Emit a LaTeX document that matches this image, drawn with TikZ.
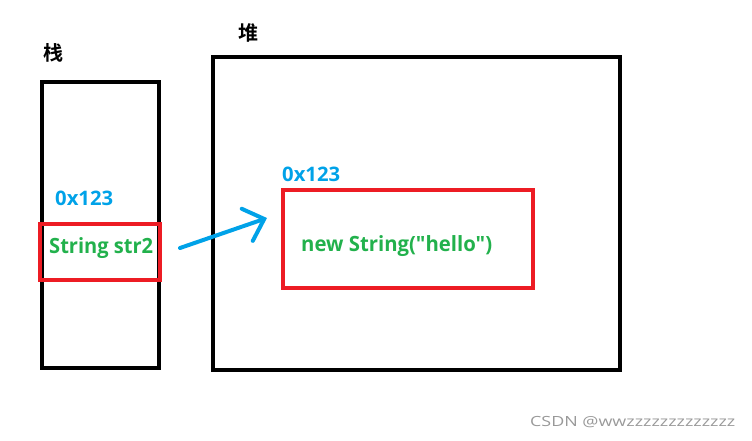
\documentclass[tikz,border=0pt]{standalone}
\usepackage{fontspec}
\usepackage{graphicx}
\setmainfont{Open Sans}[Ligatures=TeXOff]
\newfontfamily\cjk{Noto Sans CJK SC Bold}
\usetikzlibrary{arrows.meta, positioning}
\definecolor{paintred}{RGB}{237,28,36}
\definecolor{paintblue}{RGB}{0,162,232}
\definecolor{paintgreen}{RGB}{34,177,76}
% text squeezed to the width it has in the picture
\newcommand{\fitw}[2]{\resizebox{#1}{\height}{#2}}
\tikzset{
  membox/.style={rectangle, draw=black, line width=4pt, inner sep=0pt},
  refbox/.style={rectangle, draw=paintred, line width=4pt, inner sep=0pt},
  addrtext/.style={text=paintblue, font=\fontsize{20}{24}\selectfont\bfseries, inner sep=0pt, anchor=base west},
  codetext/.style={text=paintgreen, font=\fontsize{21}{25}\selectfont\bfseries, inner sep=0pt, anchor=base west},
  titletext/.style={font=\cjk\fontsize{20}{24}\selectfont, inner sep=0pt},
  refarr/.style={draw=paintblue, line width=4pt, line cap=round, -{Straight Barb[length=18pt, width=34pt, line cap=round]}},
}

\begin{document}
\begin{tikzpicture}[x=1pt, y=-1pt]
\useasboundingbox (0,0) rectangle (752,440);
% stack and heap
\node[membox, minimum width=117pt, minimum height=286pt] (stack) at (100.5,225) {};
\node[membox, minimum width=407pt, minimum height=313pt] (heap) at (416.5,213.5) {};
\node[titletext] (stacklbl) at (53,52.5) {栈};
\node[titletext] (heaplbl) at (248,32.5) {堆};
% reference in the stack
\node[refbox, minimum width=120pt, minimum height=56pt] (strref) at (100,252) {};
\node[addrtext] (stackaddr) at (55,205) {\fitw{58pt}{0x123}};
\node[codetext] (strname) at (49,253) {\fitw{104pt}{String str2}};
% object in the heap
\node[refbox, minimum width=250pt, minimum height=98pt] (strobj) at (408,239) {};
\node[addrtext] (heapaddr) at (282,181) {\fitw{58pt}{0x123}};
\node[codetext] (strval) at (301,251) {\fitw{191pt}{new String("hello")}};
% pointer
\coordinate (arrS) at (180,248);
\coordinate (arrE) at (267,218);
\draw[refarr] (arrS) -- (arrE);
% watermark
\node[text=black!40, font=\fontsize{14}{16}\selectfont, inner sep=0pt, anchor=base west] (mark) at (530,426) {\fitw{205pt}{CSDN @wwzzzzzzzzzzzzz}};
\end{tikzpicture}
\end{document}
